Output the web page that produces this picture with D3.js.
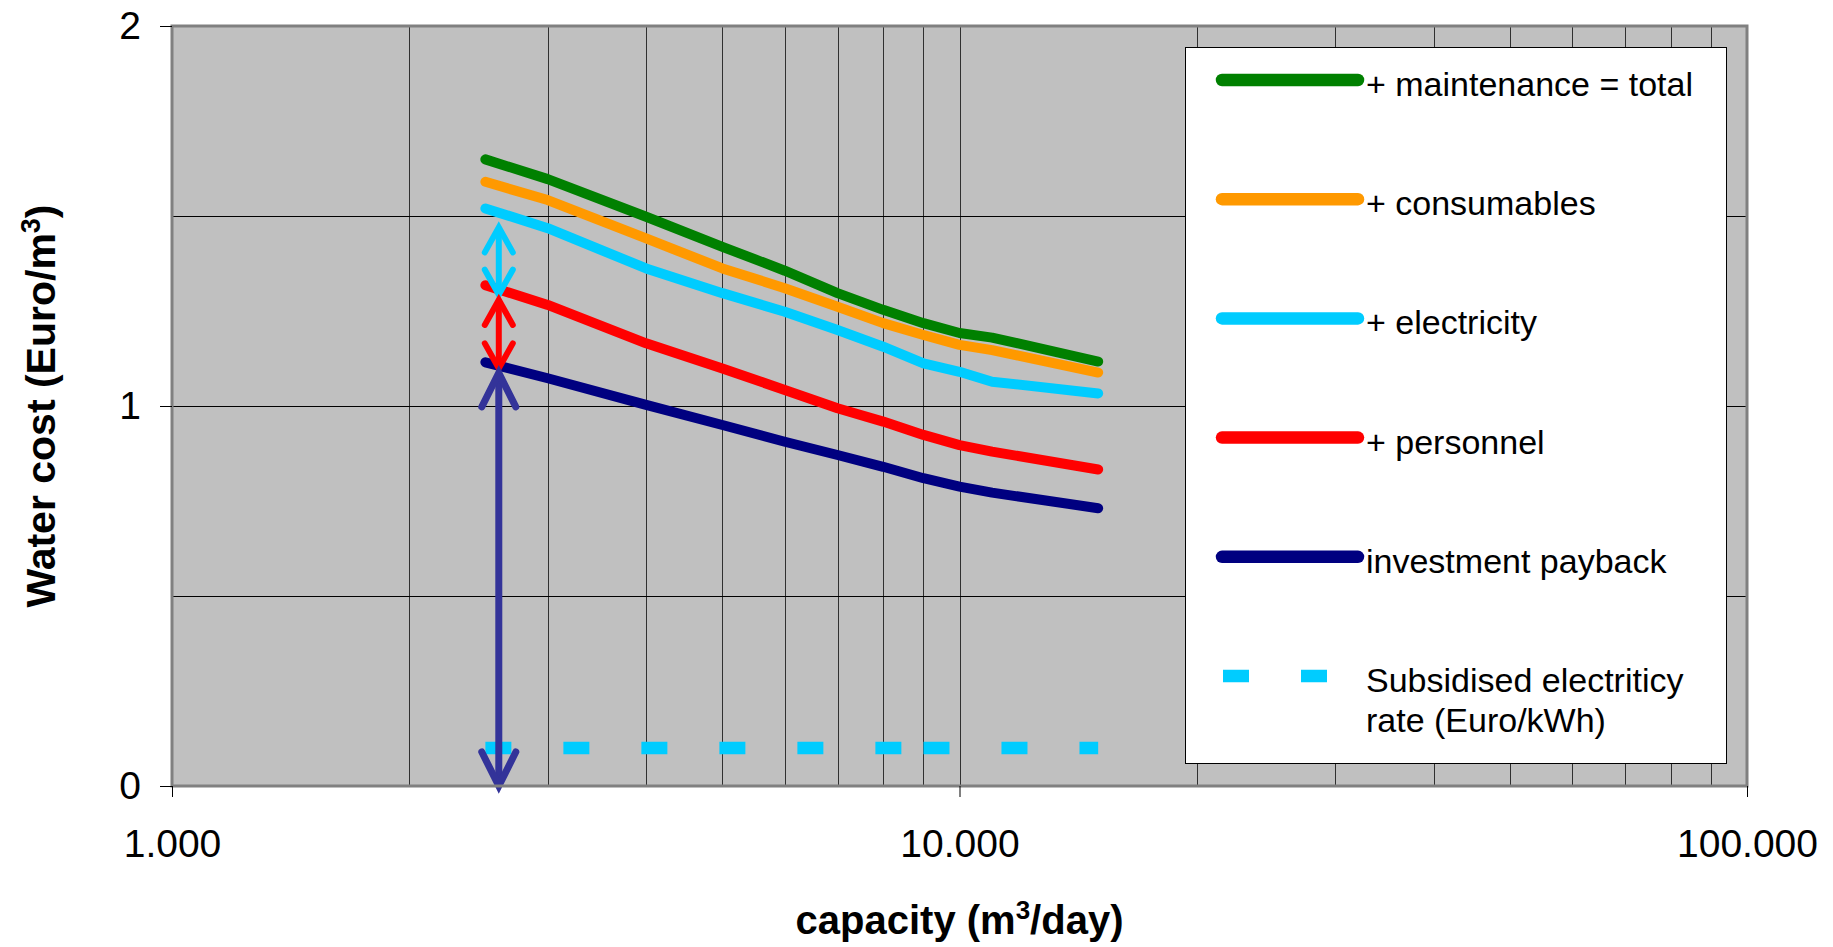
<!DOCTYPE html>
<html>
<head>
<meta charset="utf-8">
<script src="https://cdnjs.cloudflare.com/ajax/libs/d3/7.8.5/d3.min.js"></script>
<style>
    html, body { margin: 0; padding: 0; background: #fff; }
    svg { display: block; font-family: "Liberation Sans", Arial, sans-serif; }
</style>
</head>
<body>
<svg id="chart"></svg>
<script>
// capacity in m3/day
const capacity = [2500, 3000, 4000, 5000, 6000, 7000, 8000, 9000, 10000, 11000, 15000];

// cumulative water cost (Euro/m3)
const investmentPayback = [1.115, 1.073, 1.003, 0.950, 0.906, 0.871, 0.840, 0.810, 0.788, 0.772, 0.731];
const plusPersonnel     = [1.318, 1.266, 1.165, 1.099, 1.042, 0.994, 0.959, 0.924, 0.897, 0.880, 0.833];
const plusElectricity   = [1.520, 1.468, 1.362, 1.297, 1.248, 1.200, 1.156, 1.112, 1.090, 1.064, 1.033];
const plusConsumables   = [1.590, 1.542, 1.441, 1.362, 1.310, 1.261, 1.218, 1.187, 1.161, 1.147, 1.088];
const plusMaintenance   = [1.649, 1.597, 1.498, 1.419, 1.356, 1.297, 1.253, 1.218, 1.192, 1.180, 1.117];

// subsidised electricity rate (Euro/kWh), own capacity points
const subsidisedCapacity = [2500, 9000, 15000];
const subsidisedRate     = [0.1, 0.1, 0.1];

const xTickValues = [1000, 10000, 100000];
const yTickValues = [0, 1, 2];
const yGridValues = [0.5, 1, 1.5];

// annotation arrows (capacity, from value, to value)
const arrowCapacity = 2600;
const arrowFrom = [1.470, 1.279, 1.087];
const arrowTo   = [1.293, 1.099, 0];
const arrowColors = ['#00CCFF', '#FF0000', '#333399'];

const seriesNames = ['+ maintenance = total', '+ consumables', '+ electricity', '+ personnel', 'investment payback', 'Subsidised electriticy|rate (Euro/kWh)'];
const seriesColors = ['#008000', '#FF9900', '#00CCFF', '#FF0000', '#000080', '#00CCFF'];

class CostChart {

    constructor(_config) {
        this.config = {
            parentElement: _config.parentElement,
            containerWidth: 1833,
            containerHeight: 947,
            margin: {top: 26, right: 86, bottom: 161, left: 172}
        }
        this.initVis();
    }

    initVis() {
        let vis = this;

        vis.width = vis.config.containerWidth - vis.config.margin.left - vis.config.margin.right;
        vis.height = vis.config.containerHeight - vis.config.margin.top - vis.config.margin.bottom;

        vis.xScale = d3.scaleLog()
            .domain([1000, 100000])
            .range([0, vis.width]);

        vis.yScale = d3.scaleLinear()
            .domain([0, 2])
            .range([vis.height, 0]);

        // 1.000 style thousands
        const locale = d3.formatLocale({decimal: ',', thousands: '.', grouping: [3], currency: ['', '']});

        vis.xAxis = d3.axisBottom(vis.xScale)
            .tickValues(xTickValues)
            .tickFormat(locale.format(','))
            .tickSize(11)
            .tickPadding(32);

        vis.yAxis = d3.axisLeft(vis.yScale)
            .tickValues(yTickValues)
            .tickFormat(d3.format('d'))
            .tickSize(12)
            .tickPadding(19);

        vis.svg = d3.select(vis.config.parentElement)
            .attr('width', vis.config.containerWidth)
            .attr('height', vis.config.containerHeight);

        vis.chart = vis.svg.append('g')
            .attr('transform', `translate(${vis.config.margin.left},${vis.config.margin.top})`);

        // grey plot area
        vis.chart.append('rect')
            .attr('width', vis.width)
            .attr('height', vis.height)
            .attr('fill', '#C0C0C0');

        vis.gridG = vis.chart.append('g').attr('class', 'grid');
        vis.linesG = vis.chart.append('g').attr('class', 'lines');
        vis.arrowsG = vis.chart.append('g').attr('class', 'arrows');
        vis.legendG = vis.svg.append('g').attr('class', 'legend');

        // plot border
        vis.chart.append('rect')
            .attr('width', vis.width)
            .attr('height', vis.height)
            .attr('fill', 'none')
            .attr('stroke', '#808080')
            .attr('stroke-width', 3);

        vis.xAxisG = vis.chart.append('g')
            .attr('class', 'axis x-axis')
            .attr('transform', `translate(0,${vis.height})`);

        vis.yAxisG = vis.chart.append('g')
            .attr('class', 'axis y-axis');

        // axis titles
        const xTitle = vis.chart.append('text')
            .attr('x', vis.width / 2)
            .attr('y', 908)
            .attr('text-anchor', 'middle')
            .attr('font-size', 40)
            .attr('font-weight', 'bold')
            .text('capacity (m');
        xTitle.append('tspan').attr('font-size', 26).attr('baseline-shift', 'super').text('3');
        xTitle.append('tspan').text('/day)');

        const yTitle = vis.svg.append('text')
            .attr('transform', `translate(55,${vis.config.margin.top + vis.height / 2}) rotate(-90)`)
            .attr('text-anchor', 'middle')
            .attr('font-size', 41)
            .attr('font-weight', 'bold')
            .text('Water cost (Euro/m');
        yTitle.append('tspan').attr('font-size', 27).attr('baseline-shift', 'super').text('3');
        yTitle.append('tspan').text(')');
    }

    updateVis() {
        let vis = this;

        const costSeries = [plusMaintenance, plusConsumables, plusElectricity, plusPersonnel, investmentPayback];

        vis.series = costSeries.map((vals, i) => ({
            name: seriesNames[i],
            color: seriesColors[i],
            dashed: false,
            points: capacity.map((c, j) => ({x: c, y: vals[j]}))
        }));
        vis.series.push({
            name: seriesNames[5],
            color: seriesColors[5],
            dashed: true,
            points: subsidisedCapacity.map((c, j) => ({x: c, y: subsidisedRate[j]}))
        });

        vis.arrows = arrowFrom.map((f, i) => ({from: f, to: arrowTo[i], color: arrowColors[i]}));

        vis.renderVis();
    }

    renderVis() {
        let vis = this;

        // gridlines
        vis.gridG.selectAll('.vgrid')
            .data(vis.xScale.ticks().filter(d => d > 1000 && d < 100000))
            .join('line')
            .attr('class', 'vgrid')
            .attr('x1', d => Math.round(vis.xScale(d)) + 0.5)
            .attr('x2', d => Math.round(vis.xScale(d)) + 0.5)
            .attr('y1', 0)
            .attr('y2', vis.height)
            .attr('stroke', '#000')
            .attr('stroke-opacity', 0.75)
            .attr('stroke-width', 1);

        vis.gridG.selectAll('.hgrid')
            .data(yGridValues)
            .join('line')
            .attr('class', 'hgrid')
            .attr('x1', 0)
            .attr('x2', vis.width)
            .attr('y1', d => Math.round(vis.yScale(d)) + 0.5)
            .attr('y2', d => Math.round(vis.yScale(d)) + 0.5)
            .attr('stroke', '#000')
            .attr('stroke-width', 1);

        const line = d3.line()
            .x(d => vis.xScale(d.x))
            .y(d => vis.yScale(d.y));

        // dashed series: one path per segment so the dash pattern restarts at each point
        const dashed = vis.series.filter(d => d.dashed)[0];
        vis.linesG.selectAll('.dash-seg')
            .data(d3.pairs(dashed.points))
            .join('path')
            .attr('class', 'dash-seg')
            .attr('d', d => line(d))
            .attr('fill', 'none')
            .attr('stroke', dashed.color)
            .attr('stroke-width', 12.5)
            .attr('stroke-linecap', 'butt')
            .attr('stroke-dasharray', '26,52');

        vis.linesG.selectAll('.series')
            .data(vis.series.filter(d => !d.dashed).reverse())
            .join('path')
            .attr('class', 'series')
            .attr('d', d => line(d.points))
            .attr('fill', 'none')
            .attr('stroke', d => d.color)
            .attr('stroke-width', 10)
            .attr('stroke-linecap', 'round')
            .attr('stroke-linejoin', 'round');

        // annotation arrows
        const ax = vis.xScale(arrowCapacity);
        vis.arrows.forEach((a, i) => {
            const yTop = vis.yScale(a.from);
            const yBot = vis.yScale(a.to);
            const big = i === 2;
            const hw = big ? 17 : 14;
            const hh = big ? 34 : 25;
            const sw = big ? 7 : 6;
            const g = vis.arrowsG.append('g')
                .attr('fill', 'none')
                .attr('stroke', a.color)
                .attr('stroke-width', sw)
                .attr('stroke-linecap', 'round')
                .attr('stroke-linejoin', 'miter');
            g.append('line')
                .attr('x1', ax).attr('x2', ax)
                .attr('y1', yTop + 2).attr('y2', yBot - 2);
            g.append('path')
                .attr('d', `M${ax - hw},${yTop + hh}L${ax},${yTop}L${ax + hw},${yTop + hh}`);
            g.append('path')
                .attr('d', `M${ax - hw},${yBot - hh}L${ax},${yBot}L${ax + hw},${yBot - hh}`);
        });

        // legend box
        vis.legendG.append('rect')
            .attr('x', 1185.5)
            .attr('y', 47.5)
            .attr('width', 541)
            .attr('height', 716)
            .attr('fill', '#fff')
            .attr('stroke', '#000')
            .attr('stroke-width', 1);

        const entry = vis.legendG.selectAll('.entry')
            .data(vis.series)
            .join('g')
            .attr('class', 'entry')
            .attr('transform', (d, i) => `translate(0,${80 + i * 119.2})`);

        entry.append('line')
            .attr('x1', d => d.dashed ? 1223 : 1222)
            .attr('x2', 1358)
            .attr('stroke', d => d.color)
            .attr('stroke-width', 12.5)
            .attr('stroke-linecap', d => d.dashed ? 'butt' : 'round')
            .attr('stroke-dasharray', d => d.dashed ? '26,52' : null);

        entry.append('text')
            .attr('x', 1366)
            .attr('y', 16)
            .attr('font-size', 34)
            .attr('fill', '#000')
            .selectAll('tspan')
            .data(d => d.name.split('|'))
            .join('tspan')
            .attr('x', 1366)
            .attr('dy', (d, i) => i === 0 ? 0 : 40)
            .text(d => d);

        // axes
        vis.xAxisG.call(vis.xAxis)
            .call(g => g.select('.domain').remove())
            .call(g => g.selectAll('.tick text').attr('font-size', 39).attr('font-family', null).attr('fill', '#000'))
            .call(g => g.selectAll('.tick line').attr('stroke', '#000'));

        vis.yAxisG.call(vis.yAxis)
            .call(g => g.select('.domain').remove())
            .call(g => g.selectAll('.tick text').attr('font-size', 39).attr('font-family', null).attr('fill', '#000'))
            .call(g => g.selectAll('.tick line').attr('stroke', '#000'));
    }
}

const chart = new CostChart({parentElement: '#chart'});
chart.updateVis();
</script>
</body>
</html>
